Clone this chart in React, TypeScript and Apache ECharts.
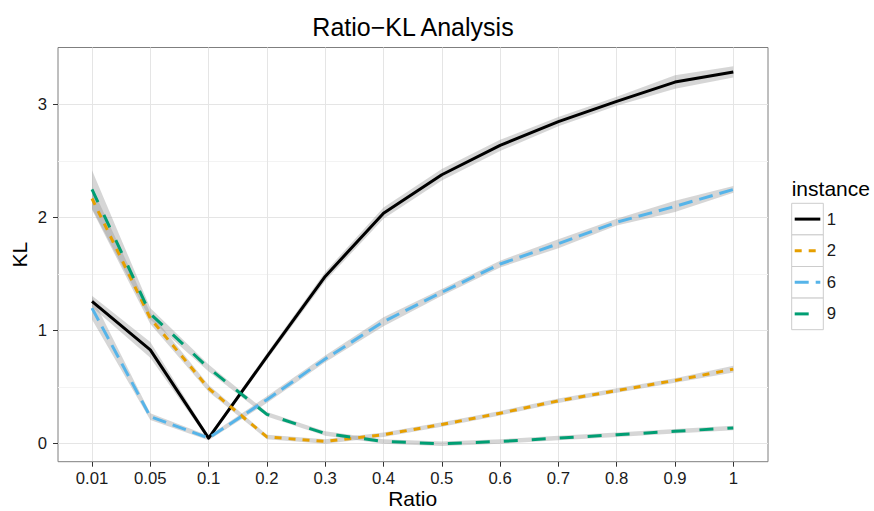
import React, { useEffect, useRef } from "react";
import * as echarts from "echarts";

const categories = ["0.01", "0.05", "0.1", "0.2", "0.3", "0.4", "0.5", "0.6", "0.7", "0.8", "0.9", "1"];
const instances = ["1", "2", "6", "9"];
const kl1 = [1.26, 0.83, 0.05, 0.77, 1.48, 2.04, 2.38, 2.64, 2.85, 3.03, 3.2, 3.29];
const kl2 = [2.17, 1.11, 0.49, 0.06, 0.02, 0.08, 0.17, 0.27, 0.38, 0.47, 0.56, 0.66];
const kl6 = [1.2, 0.24, 0.05, 0.39, 0.75, 1.08, 1.34, 1.59, 1.77, 1.96, 2.1, 2.25];
const kl9 = [2.25, 1.15, 0.67, 0.26, 0.09, 0.02, 0.0, 0.02, 0.05, 0.08, 0.11, 0.14];
const se1 = [0.05, 0.07, 0.02, 0.03, 0.04, 0.05, 0.05, 0.05, 0.04, 0.04, 0.06, 0.05];
const se2 = [0.1, 0.05, 0.03, 0.02, 0.02, 0.02, 0.02, 0.02, 0.02, 0.02, 0.02, 0.03];
const se6 = [0.1, 0.03, 0.02, 0.03, 0.03, 0.04, 0.03, 0.03, 0.04, 0.03, 0.05, 0.03];
const se9 = [0.17, 0.05, 0.03, 0.02, 0.02, 0.02, 0.02, 0.02, 0.02, 0.02, 0.02, 0.02];
const yTicks = [0, 1, 2, 3];
const yMinorTicks = [0.5, 1.5, 2.5];

const values = [kl1, kl2, kl6, kl9];
const ses = [se1, se2, se6, se9];
const colors = ["#000000", "#E69F00", "#56B4E9", "#009E73"];
const dashes: (number[] | "solid")[] = ["solid", [7, 7], [14, 7], [14, 14]];

const FONT = "'Liberation Sans', Arial, Helvetica, sans-serif";
const Y_MIN = -0.159;
const Y_MAX = 3.506;

export default function App() {
  const ref = useRef<HTMLDivElement>(null);
  useEffect(() => {
    if (!ref.current) return;
    const chart = echarts.init(ref.current, null, { renderer: "svg" });

    const gridTop = 47.5;
    const gridBottom = 49.3;

    const series: any[] = [];
    values.forEach((vals, i) => {
      const se = ses[i];
      series.push({
        type: "line",
        name: "band-lo-" + instances[i],
        xAxisIndex: 1,
        yAxisIndex: 2,
        data: vals.map((v, j) => +(v - se[j]).toFixed(4)),
        stack: "band" + i,
        stackStrategy: "all",
        symbol: "none",
        silent: true,
        clip: false,
        lineStyle: { width: 0, opacity: 0 },
        z: 1,
      });
      series.push({
        type: "line",
        name: "band-hi-" + instances[i],
        xAxisIndex: 1,
        yAxisIndex: 2,
        data: se.map((s) => +(2 * s).toFixed(4)),
        stack: "band" + i,
        stackStrategy: "all",
        symbol: "none",
        silent: true,
        clip: false,
        lineStyle: { width: 0, opacity: 0 },
        areaStyle: { color: "rgba(153,153,153,0.4)", opacity: 1 },
        z: 1,
      });
    });
    values.forEach((vals, i) => {
      series.push({
        type: "line",
        name: instances[i],
        xAxisIndex: 1,
        yAxisIndex: 2,
        data: vals,
        symbol: "none",
        clip: false,
        lineStyle: {
          color: colors[i],
          width: 3,
          type: dashes[i],
          cap: "butt",
          join: "round",
        },
        z: 3 + i,
      });
    });

    // legend drawn as ggplot-style keys
    const legX = 791.7;
    const legTop = 203.3;
    const keySize = 31.6;
    const legendEls: any[] = [
      {
        type: "text",
        x: legX,
        y: 188,
        style: { text: "instance", font: `21px ${FONT}`, fill: "#000", align: "left", verticalAlign: "middle" },
      },
    ];
    instances.forEach((name, i) => {
      const y0 = legTop + i * keySize;
      legendEls.push({
        type: "rect",
        shape: { x: legX, y: y0, width: keySize, height: keySize },
        style: { fill: "#ffffff", stroke: "#cccccc", lineWidth: 1 },
      });
      legendEls.push({
        type: "line",
        shape: { x1: legX + 3, y1: y0 + keySize / 2, x2: legX + keySize - 3, y2: y0 + keySize / 2 },
        style: {
          stroke: colors[i],
          lineWidth: 3,
          lineDash: dashes[i] === "solid" ? null : dashes[i],
          lineCap: "butt",
        },
      });
      legendEls.push({
        type: "text",
        x: legX + keySize + 3.5,
        y: y0 + keySize / 2,
        style: { text: name, font: `16.7px ${FONT}`, fill: "#1a1a1a", align: "left", verticalAlign: "middle" },
      });
    });

    chart.setOption({
      animation: false,
      backgroundColor: "#ffffff",
      grid: [
        {
          left: 58,
          right: 874 - 768,
          top: gridTop,
          bottom: gridBottom,
          show: true,
          borderColor: "#7f7f7f",
          borderWidth: 1,
          backgroundColor: "transparent",
          containLabel: false,
          outerBoundsMode: "none",
        },
        {
          left: 92,
          right: 874 - 733.3,
          top: gridTop,
          bottom: gridBottom,
          containLabel: false,
          outerBoundsMode: "none",
        },
      ],
      xAxis: [
        { type: "value", gridIndex: 0, min: 0, max: 1, show: false },
        {
          type: "category",
          gridIndex: 1,
          data: categories,
          boundaryGap: false,
          axisLine: { show: false, onZero: false },
          axisTick: { show: true, length: 5, lineStyle: { color: "#333333", width: 1 } },
          axisLabel: { fontSize: 16.7, fontFamily: FONT, color: "#1a1a1a", margin: 8, interval: 0 },
          splitLine: { show: true, lineStyle: { color: "#e5e5e5", width: 1 } },
          name: "Ratio",
          nameLocation: "middle",
          nameGap: 26,
          nameMoveOverlap: false,
          nameTextStyle: { fontSize: 21, fontFamily: FONT, color: "#000000" },
        },
      ],
      yAxis: [
        {
          type: "value",
          gridIndex: 0,
          min: Y_MIN,
          max: Y_MAX,
          axisLine: { show: false, onZero: false },
          axisTick: { show: true, length: 5, customValues: yTicks, lineStyle: { color: "#333333", width: 1 } },
          axisLabel: { customValues: yTicks, fontSize: 16.7, fontFamily: FONT, color: "#1a1a1a", margin: 11 },
          splitLine: { show: true, lineStyle: { color: "#e5e5e5", width: 1 } },
          name: "KL",
          nameLocation: "middle",
          nameGap: 28,
          nameRotate: 90,
          nameMoveOverlap: false,
          nameTextStyle: { fontSize: 21, fontFamily: FONT, color: "#000000" },
        },
        {
          type: "value",
          gridIndex: 0,
          min: Y_MIN,
          max: Y_MAX,
          axisLine: { show: false, onZero: false },
          axisTick: { show: false, customValues: yMinorTicks },
          axisLabel: { show: false, customValues: yMinorTicks },
          splitLine: { show: true, lineStyle: { color: "#f3f3f3", width: 1 } },
        },
        { type: "value", gridIndex: 1, min: Y_MIN, max: Y_MAX, show: false },
      ],
      graphic: [
        {
          type: "text",
          x: 413,
          y: 26.5,
          style: {
            text: "Ratio\u2212KL Analysis",
            font: `25px ${FONT}`,
            fill: "#000000",
            align: "center",
            verticalAlign: "middle",
          },
        },
        ...legendEls,
      ],
      series,
    });
    return () => chart.dispose();
  }, []);
  return <div ref={ref} style={{ position: "fixed", left: 0, top: 0, width: 874, height: 511 }} />;
}
